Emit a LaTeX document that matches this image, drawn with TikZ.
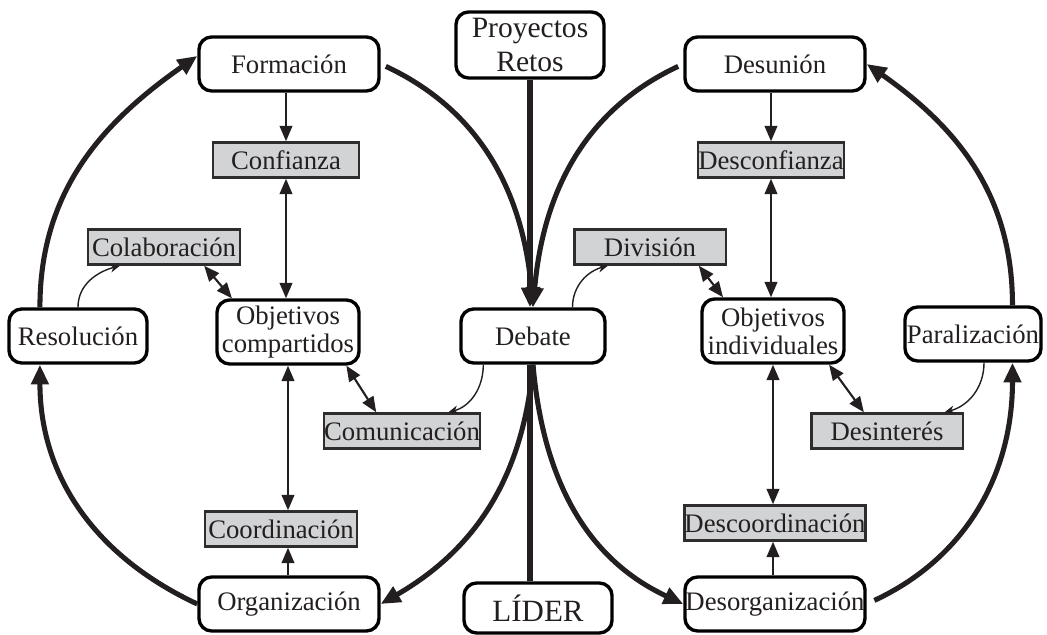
\documentclass[tikz,border=0pt]{standalone}
\usepackage{fontspec}
\setmainfont{Liberation Serif}
\usepackage{tikz}
\usetikzlibrary{arrows.meta}
\definecolor{tinta}{HTML}{231F20}
\definecolor{gris}{HTML}{D1D3D4}
\definecolor{borde}{HTML}{2E2C2D}

\begin{document}
\begin{tikzpicture}[x=0.025cm,y=-0.025cm,
	every node/.style={text=tinta,font=\fontsize{19}{20}\selectfont},
	estado/.style={draw=black,line width=2.4pt,rounded corners=9pt,fill=white,minimum height=1.35cm,align=center,inner sep=0pt},
	factor/.style={draw=borde,line width=1.6pt,fill=gris,minimum height=0.88cm,inner sep=0pt},
	ciclo/.style={draw=tinta,line width=3.6pt,-{Triangle[length=14pt,width=12pt]}},
	enlace/.style={draw=tinta,line width=1.5pt,>={Triangle[length=11pt,width=9pt]},->},
	doble/.style={enlace,<->},
	rizo/.style={draw=tinta,line width=1pt,-{Stealth[length=7pt,width=6pt]}}]
		\useasboundingbox (0,0) rectangle (1047,635);
		% lado izquierdo
		\node[estado,minimum width=4.5cm] (formacion) at (289,64) {Formación};
		\node[factor,minimum width=3.65cm] (confianza) at (286,160) {Confianza};
		\node[factor,minimum width=3.8cm] (colaboracion) at (164,247) {Colaboración};
		\node[estado,minimum width=3.55cm,minimum height=1.6cm] (objcomp) at (288,332) {Objetivos\\compartidos};
		\node[estado,minimum width=3.45cm] (resolucion) at (78,336) {Resolución};
		\node[factor,minimum width=3.8cm] (comunicacion) at (402,431) {Comunicación};
		\node[factor,minimum width=3.8cm] (coordinacion) at (281,529) {Coordinación};
		\node[estado,minimum width=4.5cm] (organizacion) at (289,604) {Organización};
		% centro
		\node[estado,minimum width=3.7cm,minimum height=1.65cm,font=\fontsize{21}{23.5}\selectfont] (proyectos) at (530,45) {Proyectos\\Retos};
		\node[estado,minimum width=3.6cm] (debate) at (533,336) {Debate};
		\node[estado,minimum width=3.7cm,minimum height=1.25cm,font=\fontsize{22}{24}\selectfont] (lider) at (538,608) {LÍDER};
		% lado derecho
		\node[estado,minimum width=4.5cm] (desunion) at (775,64) {Desunión};
		\node[factor,minimum width=3.63cm] (desconfianza) at (771,160) {Desconfianza};
		\node[factor,minimum width=3.78cm] (division) at (650,247) {División};
		\node[estado,minimum width=3.55cm,minimum height=1.6cm] (objind) at (773,331) {Objetivos\\individuales};
		\node[estado,minimum width=3.4cm] (paralizacion) at (973,334) {Paralización};
		\node[factor,minimum width=3.78cm] (desinteres) at (887,431) {Desinterés};
		\node[factor,minimum width=4.33cm] (descoordinacion) at (775,523) {Descoordinación};
		\node[estado,minimum width=4.5cm] (desorganizacion) at (775,604) {Desorganización};

		% ciclos
		\draw[ciclo] (resolucion.143) to[out=90,in=-145] (formacion.175);
		\draw[ciclo,shorten <=4pt] (formacion.east) to[out=-25,in=95] (debate.north);
		\draw[ciclo] (debate.south) to[out=-95,in=30] (organizacion.east);
		\draw[ciclo] (organizacion.west) to[out=155,in=-90] (resolucion.-143);
		\draw[ciclo,shorten <=4pt] (desunion.west) to[out=-155,in=85] (debate.north);
		\draw[ciclo] (debate.south) to[out=-85,in=155] (desorganizacion.west);
		\draw[ciclo,shorten <=6pt] (desorganizacion.east) to[out=25,in=-90] (paralizacion.-36);
		\draw[ciclo] (paralizacion.36) to[out=90,in=-35] (desunion.east);
		\draw[ciclo] (proyectos.south) -- (proyectos.south |- debate.north);
		\draw[draw=tinta,line width=3.6pt] (lider.north -| proyectos) -- (debate.south -| proyectos);

		\draw[enlace] (formacion.south -| confianza) -- (confianza.north);
		\draw[doble] (confianza.south) -- (confianza.south |- objcomp.north);
		\draw[doble] (colaboracion.-25) -- (objcomp.149);
		\draw[doble] (objcomp.-30) -- (comunicacion.144);
		\draw[doble] (objcomp.south) -- (objcomp.south |- coordinacion.north);
		\draw[enlace] (organizacion.north -| objcomp) -- (coordinacion.south -| objcomp);

		\draw[enlace] (desunion.south -| desconfianza) -- (desconfianza.north);
		\draw[doble] (desconfianza.south) -- (desconfianza.south |- objind.north);
		\draw[doble] (division.-21) -- (objind.146);
		\draw[doble] (objind.-31) -- (desinteres.141);
		\draw[doble] (objind.south) -- (objind.south |- descoordinacion.north);
		\draw[enlace] (desorganizacion.north -| objind) -- (descoordinacion.south -| objind);

		\draw[rizo] (resolucion.north) to[out=90,in=-165] (colaboracion.-157);
		\draw[rizo] (debate.36) to[out=90,in=-165] (division.-156);
		\draw[rizo] (debate.-150) to[out=-90,in=15] (comunicacion.22);
		\draw[rizo] (paralizacion.-69) to[out=-90,in=15] (desinteres.18);
	\end{tikzpicture}
\end{document}
